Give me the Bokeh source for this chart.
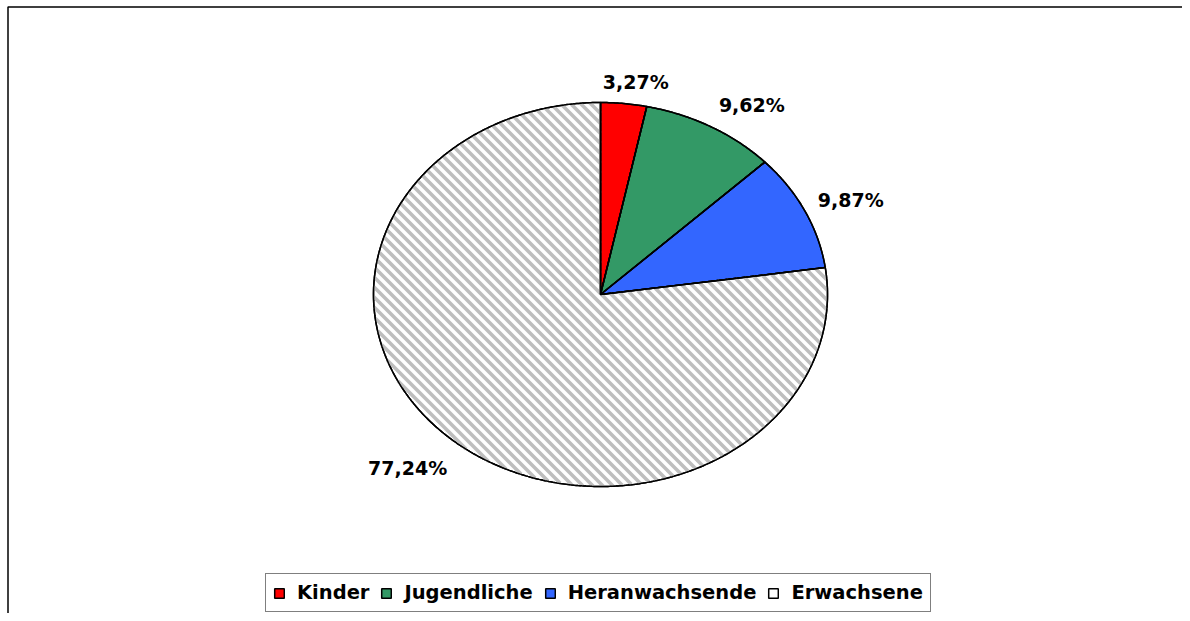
import numpy as np
from bokeh.plotting import figure
from bokeh.models import Range1d, ColumnDataSource, Legend, LegendItem
from bokeh.core.properties import value
from bokeh.embed import file_html
from bokeh.resources import INLINE

# ---- data ----
categories = ["Kinder", "Jugendliche", "Heranwachsende", "Erwachsene"]
shares = [3.27, 9.62, 9.87, 77.24]
colors = ["#FF0000", "#339966", "#3366FF", "#FFFFFF"]
striped = [False, False, False, True]
# label offsets (screen px) from the slice's mid-arc point
label_dx = [12, 41, 46, -44]
label_dy = [-22, -22, -11, 29]

# ---- layout ----
W, H = 1182, 613
CX, CY, RX, RY = 600, 294, 227, 192
FONT = "DejaVu Sans"
STRIPE_STEP = 10.0

p = figure(width=W, height=H, x_range=Range1d(0, W), y_range=Range1d(H, 0),
           min_border=0, output_backend="svg", toolbar_location=None)
p.axis.visible = False
p.grid.visible = False
p.outline_line_color = None
p.background_fill_color = "white"

fr = np.array(shares) / sum(shares)
ends = np.cumsum(fr) * 2 * np.pi
starts = np.concatenate([[0.0], ends[:-1]])

xs, ys, mx, my = [], [], [], []
for a0, a1 in zip(starts, ends):
    n = max(4, int((a1 - a0) / (2 * np.pi) * 720))
    t = np.linspace(a0, a1, n)
    xs.append([CX] + list(CX + RX * np.sin(t)))
    ys.append([CY] + list(CY - RY * np.cos(t)))
    tm = (a0 + a1) / 2
    mx.append(CX + RX * np.sin(tm))
    my.append(CY - RY * np.cos(tm))

src = ColumnDataSource(dict(xs=xs, ys=ys, color=colors, label=categories))
r = p.patches("xs", "ys", source=src, fill_color="color", line_color="black", line_width=1.5)

# diagonal stripe texture for striped slices
sx_all, sy_all = [], []
for i, st in enumerate(striped):
    if not st:
        continue
    a0, a1 = starts[i], ends[i]
    cmin = (CX - RX) - (CY + RY)
    cmax = (CX + RX) - (CY - RY)
    for c in np.arange(cmin, cmax, STRIPE_STEP):
        s = np.arange(CX - RX - 1, CX + RX + 1, 0.25)
        x = s
        y = s - c
        u = (x - CX) / RX
        v = -(y - CY) / RY
        tt = np.mod(np.arctan2(u, v), 2 * np.pi)
        inside = (u * u + v * v <= 1.0) & (tt >= a0) & (tt <= a1 + 1e-9)
        if not inside.any():
            continue
        idx = np.flatnonzero(inside)
        breaks = np.flatnonzero(np.diff(idx) > 1)
        seg_starts = np.concatenate([[idx[0]], idx[breaks + 1]])
        seg_ends = np.concatenate([idx[breaks], [idx[-1]]])
        for a, b in zip(seg_starts, seg_ends):
            if b > a:
                sx_all.append([x[a], x[b]])
                sy_all.append([y[a], y[b]])
p.multi_line(sx_all, sy_all, line_color="#BEBEBE", line_width=3.6)

# outlines on top
p.patches("xs", "ys", source=src, fill_color=None, line_color="black", line_width=1.5)

labels = [f"{v:.2f}%".replace(".", ",") for v in shares]
lsrc = ColumnDataSource(dict(x=mx, y=my, text=labels, dx=label_dx, dy=label_dy))
p.text("x", "y", text="text", x_offset="dx", y_offset="dy", source=lsrc,
       text_font=value(FONT), text_font_style="bold", text_font_size="19px",
       text_align="center", text_baseline="middle", text_color="black")

# frame (top and left edges)
p.line([7.5, 7.5, W], [H, 6.5, 6.5], line_color="black", line_width=1.5)

legend = Legend(items=[LegendItem(label=c, renderers=[r], index=i) for i, c in enumerate(categories)],
                orientation="horizontal", location=(265, 1),
                label_text_font=FONT, label_text_font_style="bold", label_text_font_size="19.5px",
                label_text_color="black",
                glyph_width=12, glyph_height=12, label_standoff=12, spacing=11,
                padding=7, margin=0, border_line_color="black", border_line_width=1,
                background_fill_color="white", background_fill_alpha=1.0)
p.add_layout(legend, "center")

open("out.html", "w").write(file_html(p, INLINE))
